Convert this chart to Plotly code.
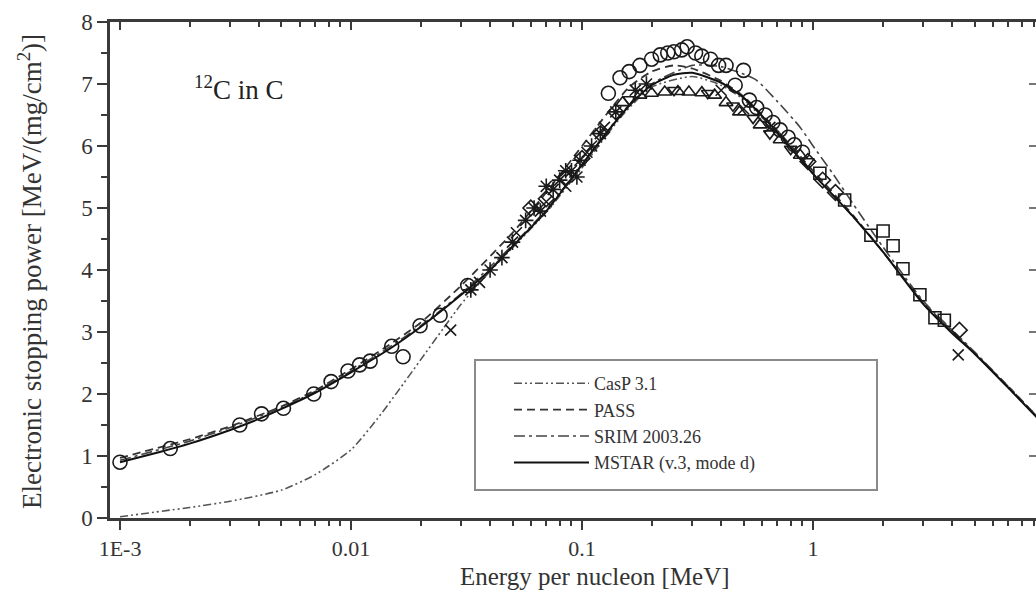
import plotly.graph_objects as go

# --- Model curves: energy per nucleon [MeV] vs electronic stopping power [MeV/(mg/cm2)]
E_mstar = [0.001, 0.0015, 0.002, 0.003, 0.004, 0.005, 0.007, 0.01, 0.015, 0.02, 0.03, 0.04,
           0.05, 0.07, 0.1, 0.13, 0.16, 0.2, 0.25, 0.3, 0.4, 0.5, 0.7, 1.0, 1.5, 2.0, 3.0,
           4.0, 5.0, 7.0, 10.0]
S_mstar = [0.9, 1.07, 1.2, 1.42, 1.6, 1.76, 2.02, 2.35, 2.75, 3.08, 3.6, 4.0,
           4.38, 4.95, 5.7, 6.25, 6.65, 6.98, 7.15, 7.18, 7.02, 6.78, 6.22, 5.55, 4.85, 4.3, 3.45,
           2.98, 2.65, 2.1, 1.5]

E_pass = [0.001, 0.002, 0.003, 0.005, 0.007, 0.01, 0.015, 0.02, 0.03, 0.05, 0.07, 0.1,
          0.13, 0.16, 0.2, 0.25, 0.3, 0.4, 0.5, 0.7, 1.0, 1.5, 2.0, 3.0, 5.0, 7.0, 10.0]
S_pass = [0.97, 1.27, 1.48, 1.8, 2.06, 2.4, 2.82, 3.15, 3.75, 4.6, 5.25, 6.0,
          6.55, 6.95, 7.2, 7.3, 7.25, 7.05, 6.8, 6.25, 5.6, 4.87, 4.3, 3.48, 2.66, 2.12, 1.52]

E_srim = [0.001, 0.002, 0.003, 0.005, 0.007, 0.01, 0.015, 0.02, 0.03, 0.05, 0.07, 0.1,
          0.15, 0.2, 0.3, 0.4, 0.5, 0.57, 0.7, 0.88, 1.0, 1.22, 1.5, 2.0, 3.0, 5.0, 7.0, 10.0]
S_srim = [0.93, 1.24, 1.46, 1.78, 2.04, 2.37, 2.78, 3.1, 3.62, 4.4, 4.97, 5.7,
          6.55, 7.0, 7.3, 7.28, 7.16, 7.06, 6.72, 6.3, 6.0, 5.55, 5.05, 4.38, 3.5, 2.68, 2.12, 1.52]

E_casp = [0.001, 0.002, 0.003, 0.005, 0.007, 0.01, 0.013, 0.016, 0.02, 0.025, 0.03, 0.04,
          0.05, 0.07, 0.1, 0.15, 0.2, 0.3, 0.4, 0.5, 0.7, 1.0, 1.5, 2.0, 3.0, 5.0, 7.0, 10.0]
S_casp = [0.02, 0.17, 0.27, 0.45, 0.7, 1.1, 1.6, 2.05, 2.55, 3.05, 3.45, 3.98,
          4.36, 4.93, 5.65, 6.5, 6.95, 7.12, 6.98, 6.75, 6.2, 5.55, 4.85, 4.3, 3.47, 2.66, 2.1, 1.52]

# --- Experimental points
E_circ = [0.001, 0.00165, 0.0033, 0.0041, 0.0051, 0.0069, 0.0082, 0.0097, 0.0109, 0.0121,
          0.015, 0.0168, 0.0199, 0.0243, 0.032, 0.13, 0.146, 0.16, 0.178, 0.2, 0.218, 0.235,
          0.25, 0.27, 0.285, 0.31, 0.33, 0.36, 0.39, 0.42, 0.46, 0.5, 0.53, 0.57, 0.62,
          0.67, 0.72, 0.78, 0.83, 0.9]
S_circ = [0.9, 1.12, 1.5, 1.68, 1.77, 2.0, 2.2, 2.37, 2.47, 2.53,
          2.77, 2.6, 3.1, 3.27, 3.75, 6.85, 7.1, 7.2, 7.3, 7.4, 7.47, 7.5,
          7.52, 7.55, 7.6, 7.5, 7.45, 7.4, 7.3, 7.3, 6.98, 7.22, 6.74, 6.62, 6.5,
          6.38, 6.26, 6.14, 6.02, 5.9]

E_sq = [1.07, 1.37, 1.78, 2.01, 2.22, 2.45, 2.9, 3.37, 3.7]
S_sq = [5.56, 5.13, 4.56, 4.63, 4.39, 4.02, 3.6, 3.23, 3.19]

E_star = [0.033, 0.040, 0.045, 0.050, 0.057, 0.062, 0.066, 0.07, 0.075, 0.080, 0.085, 0.09,
          0.095, 0.098, 0.11, 0.12, 0.14, 0.17, 0.19]
S_star = [3.68, 4.0, 4.2, 4.45, 4.8, 5.0, 4.95, 5.35, 5.3, 5.45, 5.6, 5.6,
          5.5, 5.77, 6.0, 6.2, 6.55, 6.9, 7.0]

E_tri = [0.15, 0.178, 0.2, 0.228, 0.26, 0.29, 0.33, 0.375, 0.42, 0.48, 0.59, 0.72, 0.88]
S_tri = [6.7, 6.82, 6.85, 6.87, 6.88, 6.87, 6.86, 6.82, 6.7, 6.55, 6.34, 6.1, 5.85]

E_tridn = [0.16, 0.25, 0.35, 0.45, 0.55, 0.65, 0.8, 0.95]
S_tridn = [6.75, 6.9, 6.85, 6.65, 6.45, 6.2, 5.95, 5.75]

E_diam = [0.06, 0.07, 0.085, 0.1, 0.12, 0.14, 0.95, 1.1, 1.25, 4.3]
S_diam = [5.0, 5.15, 5.5, 5.8, 6.2, 6.55, 5.75, 5.45, 5.25, 3.03]

E_cross = [0.027, 0.036, 0.052, 0.07, 0.085, 0.105, 0.125, 0.4, 0.5, 0.65, 4.25]
S_cross = [3.03, 3.8, 4.6, 5.1, 5.35, 5.9, 6.3, 6.9, 6.6, 6.3, 2.63]

x_tickvals = [0.001, 0.01, 0.1, 1, 10]
x_ticktext = ["1E-3", "0.01", "0.1", "1", "10"]
x_minor = [m * 10.0 ** d for d in range(-3, 1) for m in range(2, 10)]
y_tickvals = [0, 1, 2, 3, 4, 5, 6, 7, 8]

FONT = "Liberation Serif"
INK = "#222222"
AXIS = "#3a3a3a"

fig = go.Figure()

line_specs = [
    ("CasP 3.1", E_casp, S_casp, "8px,3px,2px,3px,2px,3px", "#555555", 1.6),
    ("PASS", E_pass, S_pass, "8px,5px", "#333333", 1.8),
    ("SRIM 2003.26", E_srim, S_srim, "11px,4px,3px,4px", "#444444", 1.6),
    ("MSTAR (v.3, mode d)", E_mstar, S_mstar, "solid", "#111111", 2.0),
]
for name, ex, sy, dash, col, w in line_specs:
    fig.add_trace(go.Scatter(x=ex, y=sy, mode="lines", name=name,
                             line=dict(color=col, width=w, dash=dash, shape="spline", smoothing=0.6)))

marker_specs = [
    (E_circ, S_circ, "circle-open", 14),
    (E_sq, S_sq, "square-open", 12),
    (E_star, S_star, "asterisk-open", 13),
    (E_tri, S_tri, "triangle-up-open", 12),
    (E_tridn, S_tridn, "triangle-down-open", 11),
    (E_diam, S_diam, "diamond-open", 12),
    (E_cross, S_cross, "x-thin-open", 11),
]
for ex, sy, sym, sz in marker_specs:
    fig.add_trace(go.Scatter(x=ex, y=sy, mode="markers", showlegend=False,
                             marker=dict(symbol=sym, size=sz, color="#1a1a1a",
                                         line=dict(color="#1a1a1a", width=1.6))))

# helper traces so the mirrored top/right axes are drawn
fig.add_trace(go.Scatter(x=[], y=[], xaxis="x2", yaxis="y", showlegend=False, hoverinfo="skip"))
fig.add_trace(go.Scatter(x=[], y=[], xaxis="x", yaxis="y2", showlegend=False, hoverinfo="skip"))

x_range = [-3.0433, 0.965]

fig.update_layout(
    width=1036, height=593,
    margin=dict(l=110, r=0, t=22, b=75),
    paper_bgcolor="white", plot_bgcolor="white",
    font=dict(family=FONT, color=INK),
    xaxis=dict(type="log", range=x_range, showgrid=False, zeroline=False,
               showline=True, linecolor=AXIS, linewidth=2.5,
               tickmode="array", tickvals=x_tickvals, ticktext=x_ticktext,
               ticks="outside", ticklen=9, tickwidth=2, tickcolor=AXIS,
               tickfont=dict(size=22, family=FONT, color="#333333"),
               minor=dict(tickvals=x_minor, ticks="outside", ticklen=5, tickwidth=2, tickcolor=AXIS)),
    xaxis2=dict(type="log", range=x_range, overlaying="x", side="top", anchor="y",
                showgrid=False, zeroline=False, showline=True, linecolor=AXIS, linewidth=2.5,
                tickmode="array", tickvals=x_tickvals, showticklabels=False,
                ticks="inside", ticklen=8, tickwidth=2, tickcolor=AXIS,
                minor=dict(tickvals=x_minor, ticks="inside", ticklen=5, tickwidth=2, tickcolor=AXIS)),
    yaxis=dict(range=[0, 8], showgrid=False, zeroline=False,
               showline=True, linecolor=AXIS, linewidth=2.5,
               tickmode="array", tickvals=y_tickvals,
               ticks="outside", ticklen=10, tickwidth=2, tickcolor=AXIS,
               tickfont=dict(size=23, family=FONT, color="#333333"),
               minor=dict(dtick=0.5, ticks="outside", ticklen=6, tickwidth=2, tickcolor=AXIS)),
    yaxis2=dict(range=[0, 8], overlaying="y", side="right", anchor="free", position=1.0,
                showgrid=False, zeroline=False, showline=False, showticklabels=False,
                tickmode="array", tickvals=y_tickvals,
                ticks="inside", ticklen=7, tickwidth=2, tickcolor="#777777"),
    legend=dict(x=(509 - 110) / 926, y=(518 - 365) / 496, xanchor="left", yanchor="top",
                bgcolor="rgba(255,255,255,0)", borderwidth=0,
                font=dict(size=18, family=FONT, color="#333333"),
                itemwidth=75, tracegroupgap=0),
    showlegend=True,
)

# legend frame
fig.add_shape(type="rect", xref="paper", yref="paper",
              x0=(475 - 110) / 926, x1=(877 - 110) / 926,
              y0=(518 - 490) / 496, y1=(518 - 360) / 496,
              line=dict(color="#8a8a8a", width=2), fillcolor="rgba(0,0,0,0)")

fig.add_annotation(text="<sup>12</sup>C in C", xref="paper", yref="paper",
                   x=(192 - 110) / 926, y=(518 - 88) / 496, xanchor="left", yanchor="middle",
                   showarrow=False, font=dict(size=27, family=FONT, color="#222222"))

fig.add_annotation(text="Electronic stopping power [MeV/(mg/cm<sup>2</sup>)]", xref="paper", yref="paper",
                   x=(30 - 110) / 926, y=(518 - 272) / 496, textangle=-90,
                   xanchor="center", yanchor="middle", showarrow=False,
                   font=dict(size=27, family=FONT, color="#333333"))

fig.add_annotation(text="Energy per nucleon [MeV]", xref="paper", yref="paper",
                   x=(595 - 110) / 926, y=-(576 - 518) / 496, xanchor="center", yanchor="middle",
                   showarrow=False, font=dict(size=25, family=FONT, color="#333333"))

fig.write_html("out.html")
